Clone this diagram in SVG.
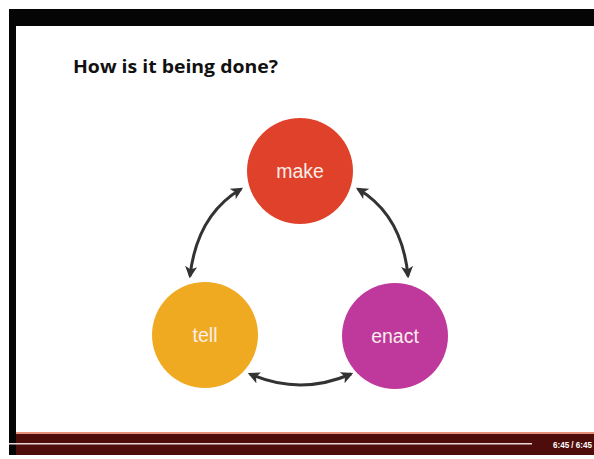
<svg xmlns="http://www.w3.org/2000/svg" width="594" height="459" viewBox="0 0 594 459">
  <defs>
    <marker id="ah" viewBox="0 0 10 10" refX="8" refY="5" markerWidth="4" markerHeight="4" orient="auto-start-reverse" markerUnits="strokeWidth">
      <path d="M0,0 L10,5 L0,10 L2.5,5 Z" fill="#333"/>
    </marker>
  </defs>
  <style>
    .lbl { font-family: "Liberation Sans", Arial, sans-serif; font-size: 19.5px; fill: #fbeeea; text-anchor: middle; }
    .arc { fill: none; stroke: #333; stroke-width: 3; marker-start: url(#ah); marker-end: url(#ah); }
  </style>
  <rect x="0" y="0" width="594" height="459" fill="#ffffff"/>
  <rect x="9" y="9" width="585" height="17" fill="#050505"/>
  <rect x="9" y="9" width="7" height="446" fill="#050505"/>
  <rect x="16" y="432" width="578" height="2" fill="#e8907a"/>
  <rect x="16" y="434" width="578" height="21" fill="#4e0d0a"/>
  <rect x="9" y="443" width="523" height="1.5" fill="#e8d8d6"/>
  <text x="553" y="448" font-family="Liberation Sans, Arial, sans-serif" font-size="8.5" font-weight="bold" fill="#ffffff" textLength="39" lengthAdjust="spacingAndGlyphs">6:45 / 6:45</text>

  <text id="title" x="73" y="73" font-family="'Open Sans', 'Liberation Sans', sans-serif" font-weight="bold" font-size="17.5" fill="#111111" textLength="205" lengthAdjust="spacingAndGlyphs">How is it being done?</text>

  <g id="connectors">
    <path class="arc" d="M241,189 Q197,215 190,276"/>
    <path class="arc" d="M358,189 Q402,215 408,276"/>
    <path class="arc" d="M250,374 Q300,396 351,374"/>
  </g>

  <g id="make">
    <circle cx="300" cy="171" r="53" fill="#e0412a"/>
    <text class="lbl" x="300" y="178">make</text>
  </g>
  <g id="tell">
    <circle cx="205" cy="335" r="53" fill="#f0aa22"/>
    <text class="lbl" x="205" y="342">tell</text>
  </g>
  <g id="enact">
    <circle cx="395" cy="336" r="53" fill="#bf389c"/>
    <text class="lbl" x="395" y="343">enact</text>
  </g>
</svg>
